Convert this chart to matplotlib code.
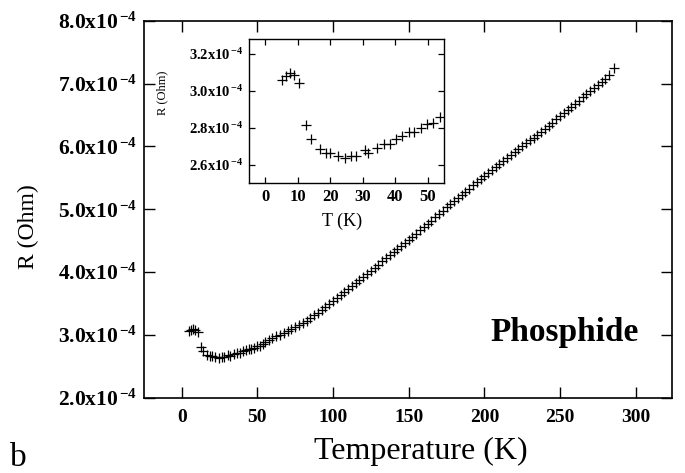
import numpy as np
import matplotlib
matplotlib.use("Agg")
import matplotlib.pyplot as plt

plt.rcParams['font.family'] = ['Liberation Serif', 'DejaVu Serif']
plt.rcParams['mathtext.fontset'] = 'custom'
plt.rcParams['mathtext.rm'] = 'Liberation Serif'
plt.rcParams['mathtext.bf'] = 'Liberation Serif:bold'
plt.rcParams['mathtext.it'] = 'Liberation Serif:italic'

# low temperature points (K, resistance in 1e-4 Ohm), also shown in the inset
T_low = [5.1, 6.4, 7.7, 9.0, 10.5, 12.6, 14.1, 16.9, 18.7, 20.0, 22.3, 24.6, 26.4,
         27.9, 30.7, 31.7, 34.3, 36.6, 38.4, 40.4, 42.2, 44.3, 45.8, 47.9, 49.7,
         51.7, 53.8]
R_low = [3.058, 3.080, 3.095, 3.086, 3.040, 2.813, 2.740, 2.686, 2.662, 2.662,
         2.644, 2.637, 2.649, 2.649, 2.680, 2.665, 2.690, 2.710, 2.710, 2.737,
         2.753, 2.777, 2.777, 2.796, 2.820, 2.826, 2.855]

# higher temperature points of the main curve
T_high = [55, 57.5, 60, 62.5, 65, 67.5, 70, 72.5, 75, 77.5, 80, 82.5, 85, 87.5, 90,
          92.5, 95, 97.5, 100, 102.5, 105, 107.5, 110, 112.5, 115, 117.5, 120,
          122.5, 125, 127.5, 130, 132.5, 135, 137.5, 140, 142.5, 145, 147.5, 150,
          152.5, 155, 157.5, 160, 162.5, 165, 167.5, 170, 172.5, 175, 177.5, 180,
          182.5, 185, 187.5, 190, 192.5, 195, 197.5, 200, 202.5, 205, 207.5, 210,
          212.5, 215, 217.5, 220, 222.5, 225, 227.5, 230, 232.5, 235, 237.5, 240,
          242.5, 245, 247.5, 250, 252.5, 255, 257.5, 260, 262.5, 265, 267.5, 270,
          272.5, 275, 277.5, 280, 282.5, 285.5]
R_high = [2.89, 2.92, 2.95, 2.98, 3.00, 3.03, 3.06, 3.09, 3.12, 3.16, 3.19, 3.23,
          3.27, 3.31, 3.35, 3.40, 3.44, 3.49, 3.54, 3.59, 3.63, 3.68, 3.73, 3.78,
          3.82, 3.87, 3.92, 3.97, 4.02, 4.07, 4.12, 4.17, 4.22, 4.27, 4.32, 4.37,
          4.41, 4.46, 4.51, 4.56, 4.61, 4.67, 4.72, 4.77, 4.82, 4.88, 4.93, 4.98,
          5.03, 5.08, 5.13, 5.18, 5.23, 5.28, 5.33, 5.38, 5.43, 5.48, 5.53, 5.57,
          5.62, 5.67, 5.72, 5.77, 5.81, 5.86, 5.91, 5.96, 6.00, 6.05, 6.10, 6.14,
          6.19, 6.23, 6.28, 6.33, 6.38, 6.43, 6.48, 6.53, 6.58, 6.63, 6.68, 6.73,
          6.78, 6.83, 6.88, 6.93, 6.98, 7.03, 7.08, 7.14, 7.25]

main_xticks = [0, 50, 100, 150, 200, 250, 300]
main_yticks = [2.0, 3.0, 4.0, 5.0, 6.0, 7.0, 8.0]
inset_xticks = [0, 10, 20, 30, 40, 50]
inset_yticks = [2.6, 2.8, 3.0, 3.2]


def sci_label(v):
    return r'$\mathbf{%.1fx10}^{\,\mathbf{-4}}$' % v


fig = plt.figure(figsize=(6.85, 4.73), dpi=100)
ax = fig.add_axes([0.210, 0.159, 0.771, 0.797])

T_all = np.array(T_low + T_high)
R_all = np.array(R_low + R_high) * 1e-4
ax.plot(T_all, R_all, '+', color='black', markersize=7, markeredgewidth=0.9)

ax.set_xlim(-25, 324)
ax.set_ylim(2e-4, 8e-4)
ax.set_xticks(main_xticks)
ax.set_xticklabels([str(t) for t in main_xticks], fontsize=14, fontweight='bold')
ax.set_yticks([v * 1e-4 for v in main_yticks])
ax.set_yticklabels([sci_label(v) for v in main_yticks], fontsize=15.5)
ax.tick_params(direction='in', length=8, width=1.0, top=True, right=True)
ax.tick_params(axis='x', pad=8)
ax.tick_params(axis='y', pad=5)
for s in ax.spines.values():
    s.set_linewidth(1.2)

fig.text(421 / 685, 1 - 451 / 473, 'Temperature (K)', fontsize=23,
         ha='center', va='center')
fig.text(28 / 685, 1 - 227 / 473, 'R (Ohm)', fontsize=17, rotation=90,
         ha='center', va='center')
fig.text(565 / 685, 1 - 332 / 473, 'Phosphide', fontsize=24, fontweight='bold',
         ha='center', va='center')
fig.text(10 / 685, 1 - 458 / 473, 'b', fontsize=24, ha='left', va='center')

# inset
axi = fig.add_axes([0.3635, 0.613, 0.2845, 0.3045])
axi.plot(T_low, np.array(R_low) * 1e-4, '+', color='black', markersize=7,
         markeredgewidth=0.9)
axi.set_xlim(-5, 55)
axi.set_ylim(2.5e-4, 3.28e-4)
axi.set_xticks(inset_xticks)
axi.set_xticklabels([str(t) for t in inset_xticks], fontsize=12, fontweight='bold')
axi.set_yticks([v * 1e-4 for v in inset_yticks])
axi.set_yticklabels([sci_label(v) for v in inset_yticks], fontsize=10.5)
axi.tick_params(direction='in', length=4, width=0.9, top=True, right=True)
axi.tick_params(axis='x', pad=4)
axi.tick_params(axis='y', pad=4)
for s in axi.spines.values():
    s.set_linewidth(1.0)

fig.text(342 / 685, 1 - 221 / 473, 'T (K)', fontsize=13, ha='center', va='center')
fig.text(162 / 685, 1 - 93 / 473, 'R (Ohm)', fontsize=9, rotation=90,
         ha='center', va='center')

fig.savefig('out.png', dpi=100)
